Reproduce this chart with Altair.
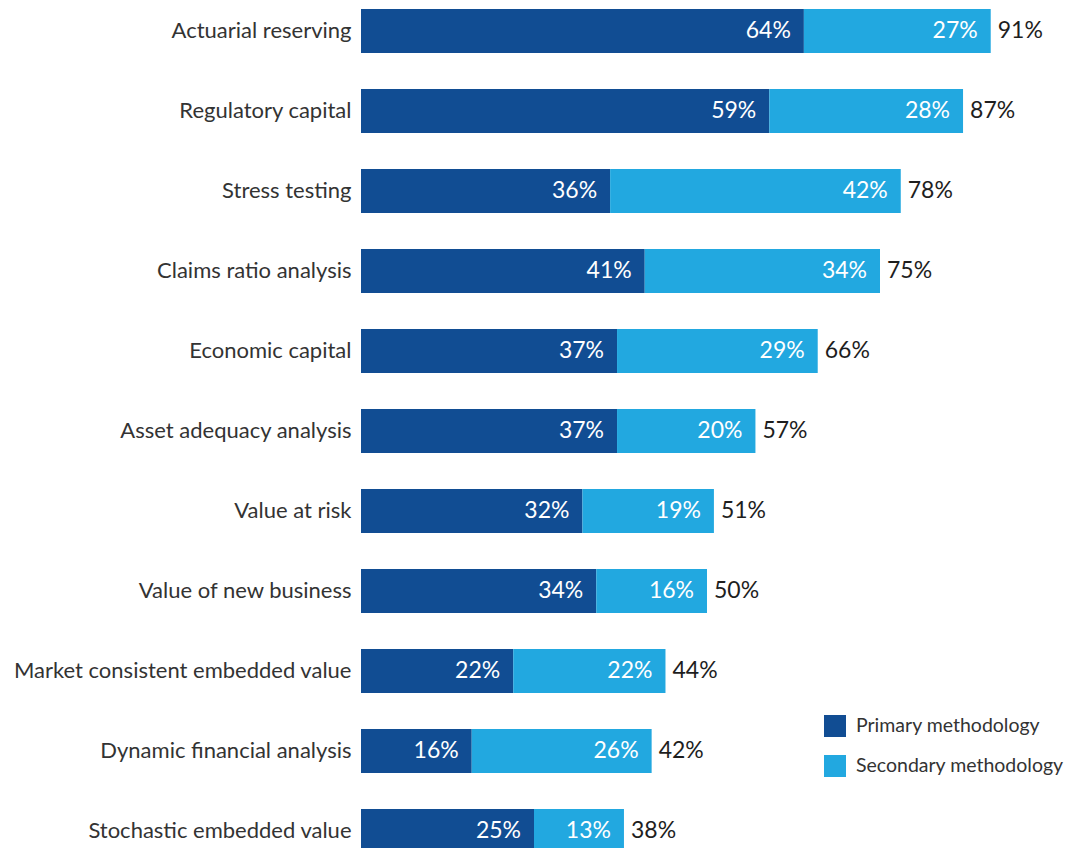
import altair as alt
import pandas as pd

categories = [
    "Actuarial reserving",
    "Regulatory capital",
    "Stress testing",
    "Claims ratio analysis",
    "Economic capital",
    "Asset adequacy analysis",
    "Value at risk",
    "Value of new business",
    "Market consistent embedded value",
    "Dynamic financial analysis",
    "Stochastic embedded value",
]
primary = [64, 59, 36, 41, 37, 37, 32, 34, 22, 16, 25]
secondary = [27, 28, 42, 34, 29, 20, 19, 16, 22, 26, 13]
totals = [91, 87, 78, 75, 66, 57, 51, 50, 44, 42, 38]
series_names = ["Primary methodology", "Secondary methodology"]
colors = ["#114D93", "#22A8E0"]

rows = []
for c, p, s in zip(categories, primary, secondary):
    rows.append({"cat": c, "series": series_names[0], "start": 0, "end": p, "label": f"{p}%"})
    rows.append({"cat": c, "series": series_names[1], "start": p, "end": p + s, "label": f"{s}%"})
df = pd.DataFrame(rows)
tot = pd.DataFrame({"cat": categories, "total": totals, "label": [f"{t}%" for t in totals]})

FONT = "Lato"

y = alt.Y(
    "cat:N",
    sort=categories,
    title=None,
    scale=alt.Scale(paddingInner=0.45, paddingOuter=0),
    axis=alt.Axis(
        ticks=False, domain=False, labelFontSize=22, labelColor="#333333",
        labelPadding=10, labelFont=FONT, labelLimit=400,
    ),
)
xscale = alt.Scale(domain=[0, 100], nice=False)

bars = alt.Chart(df).mark_bar().encode(
    x=alt.X("start:Q", scale=xscale, axis=None),
    x2="end:Q",
    y=y,
    color=alt.Color(
        "series:N",
        scale=alt.Scale(domain=series_names, range=colors),
        legend=alt.Legend(
            title=None, orient="none", legendX=463, legendY=706,
            symbolType="square", symbolSize=484, symbolStrokeWidth=0,
            labelFontSize=19.5, labelColor="#333333", labelFont=FONT,
            labelOffset=10, rowPadding=18, labelLimit=400,
        ),
    ),
)

inner = alt.Chart(df).mark_text(
    align="right", baseline="middle", dx=-13, fontSize=23, color="white", font=FONT
).encode(x=alt.X("end:Q", scale=xscale), y=y, text="label:N")

outer = alt.Chart(tot).mark_text(
    align="left", baseline="middle", dx=7, fontSize=23, color="#1E1E1E", font=FONT
).encode(x=alt.X("total:Q", scale=xscale), y=y, text="label:N")

chart = alt.layer(bars, inner, outer).properties(
    width=692, height=844,
    padding={"left": 353, "top": 1, "right": 13, "bottom": 0},
    autosize="none",
).configure_view(stroke=None)

chart.save("out.html", embed_options={"renderer": "svg", "actions": False})
